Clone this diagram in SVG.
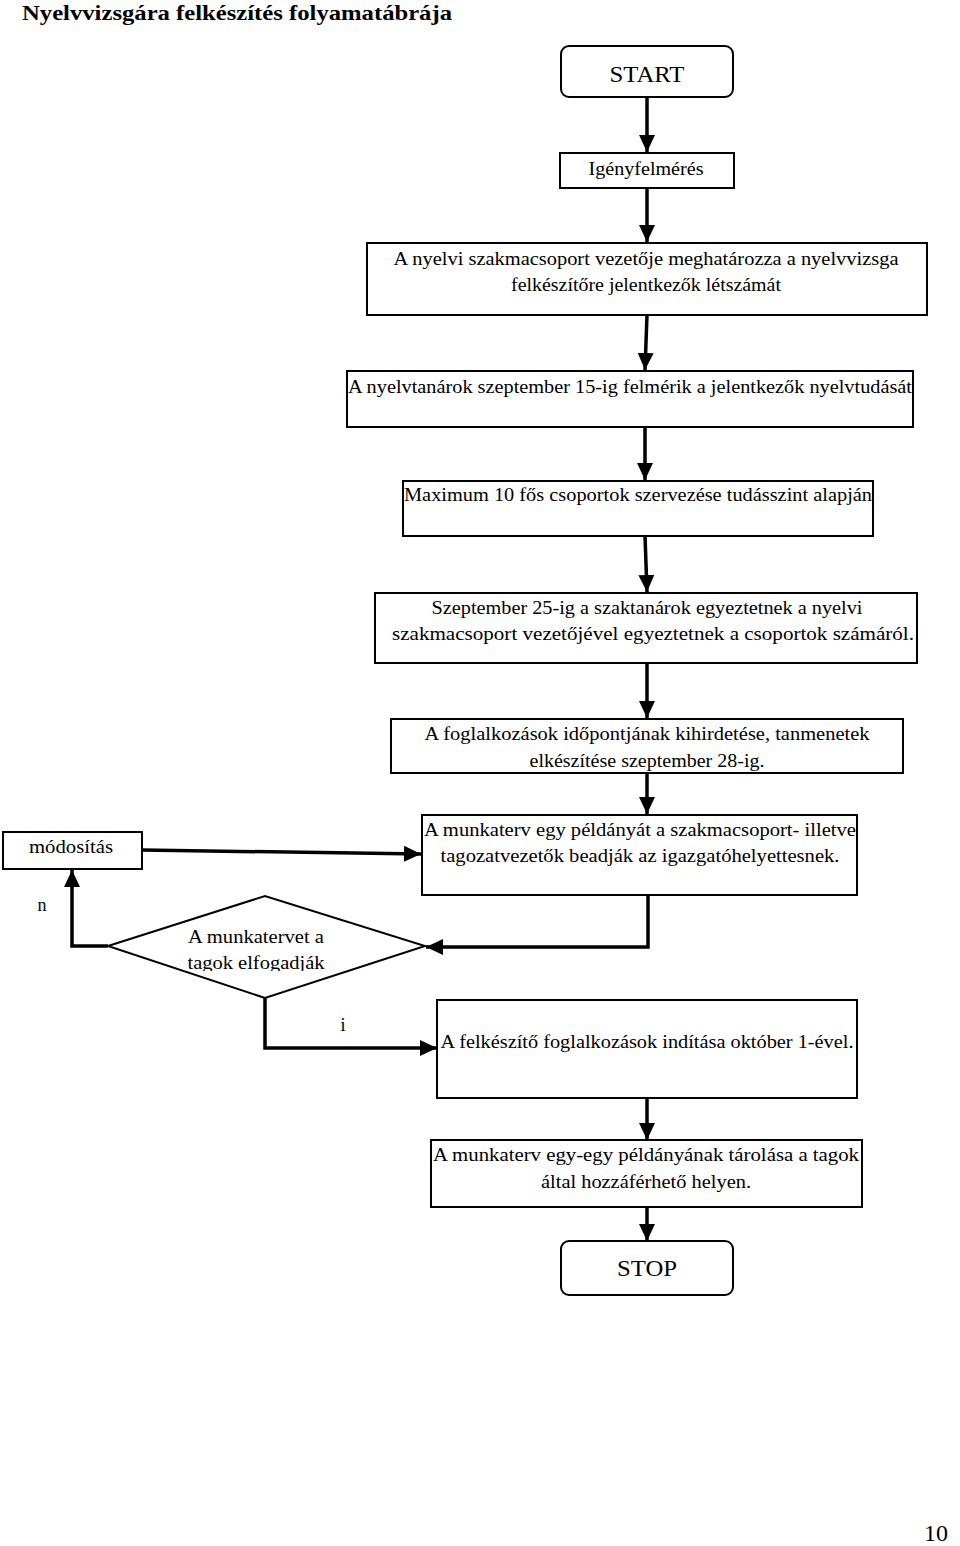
<svg xmlns="http://www.w3.org/2000/svg" width="960" height="1546" viewBox="0 0 960 1546">
<style>
text{font-family:"Liberation Serif","Times New Roman",serif;fill:#000}
.t{font-size:18px;text-anchor:middle}
.big{font-size:24px;text-anchor:middle}
.box{fill:#fff;stroke:#000;stroke-width:2}
.con{fill:none;stroke:#000;stroke-width:3.5}
</style>
<defs>
<marker id="ah" markerUnits="userSpaceOnUse" markerWidth="18" markerHeight="16" refX="17" refY="8" orient="auto">
<path d="M0,0 L17,8 L0,16 Z" fill="#000"/>
</marker>
<clipPath id="dclip"><rect x="100" y="890" width="340" height="81"/></clipPath>
</defs>
<rect width="960" height="1546" fill="#fff"/>
<text x="22" y="20" font-size="22" font-weight="bold" textLength="430" lengthAdjust="spacingAndGlyphs">Nyelvvizsgára felkészítés folyamatábrája</text>

<g id="connectors">
<path class="con" d="M647,97 L647,152" marker-end="url(#ah)"/>
<path class="con" d="M647,188 L647,242" marker-end="url(#ah)"/>
<path class="con" d="M647,315 L645,370" marker-end="url(#ah)"/>
<path class="con" d="M645,427 L645,480" marker-end="url(#ah)"/>
<path class="con" d="M645,536 L647,592" marker-end="url(#ah)"/>
<path class="con" d="M647,663 L647,718" marker-end="url(#ah)"/>
<path class="con" d="M647,773 L647,814" marker-end="url(#ah)"/>
<path class="con" d="M648,893 L648,947 L426,947" marker-end="url(#ah)"/>
<path class="con" d="M108,946 L72,946 L72,870" marker-end="url(#ah)"/>
<path class="con" d="M142,850 L421,854" marker-end="url(#ah)"/>
<path class="con" d="M265,998 L265,1048 L437,1048" marker-end="url(#ah)"/>
<path class="con" d="M647,1098 L647,1140" marker-end="url(#ah)"/>
<path class="con" d="M647,1207 L647,1241" marker-end="url(#ah)"/>
<text x="42" y="911" class="t">n</text>
<text x="343" y="1031" class="t">i</text>
</g>

<g id="start">
<rect class="box" x="561" y="46" width="172" height="51" rx="8"/>
<text x="647" y="82" class="big" textLength="75" lengthAdjust="spacingAndGlyphs">START</text>
</g>
<g id="igenyfelmeres">
<rect class="box" x="560" y="153" width="174" height="35"/>
<text x="646" y="175" class="t" textLength="115" lengthAdjust="spacingAndGlyphs">Igényfelmérés</text>
</g>
<g id="letszam">
<rect class="box" x="367" y="243" width="560" height="72"/>
<text x="646" y="265" class="t" textLength="505" lengthAdjust="spacingAndGlyphs">A nyelvi szakmacsoport vezetője meghatározza a nyelvvizsga</text>
<text x="646" y="291" class="t" textLength="270" lengthAdjust="spacingAndGlyphs">felkészítőre jelentkezők létszámát</text>
</g>
<g id="felmeres">
<rect class="box" x="347" y="371" width="566" height="56"/>
<text x="630" y="393" class="t" textLength="564" lengthAdjust="spacingAndGlyphs">A nyelvtanárok szeptember 15-ig felmérik a jelentkezők nyelvtudását</text>
</g>
<g id="csoportok">
<rect class="box" x="403" y="481" width="470" height="55"/>
<text x="638" y="501" class="t" textLength="468" lengthAdjust="spacingAndGlyphs">Maximum 10 fős csoportok szervezése tudásszint alapján</text>
</g>
<g id="egyeztetes">
<rect class="box" x="375" y="593" width="542" height="70"/>
<text x="647" y="614" class="t" textLength="431" lengthAdjust="spacingAndGlyphs">Szeptember 25-ig a szaktanárok egyeztetnek a nyelvi</text>
<text x="653" y="640" class="t" textLength="522" lengthAdjust="spacingAndGlyphs">szakmacsoport vezetőjével egyeztetnek a csoportok számáról.</text>
</g>
<g id="kihirdetes">
<rect class="box" x="391" y="719" width="512" height="54"/>
<text x="647" y="740" class="t" textLength="445" lengthAdjust="spacingAndGlyphs">A foglalkozások időpontjának kihirdetése, tanmenetek</text>
<text x="647" y="767" class="t" textLength="235" lengthAdjust="spacingAndGlyphs">elkészítése szeptember 28-ig.</text>
</g>
<g id="beadas">
<rect class="box" x="422" y="815" width="435" height="80"/>
<text x="640" y="836" class="t" textLength="432" lengthAdjust="spacingAndGlyphs">A munkaterv egy példányát a szakmacsoport- illetve</text>
<text x="640" y="862" class="t" textLength="399" lengthAdjust="spacingAndGlyphs">tagozatvezetők beadják az igazgatóhelyettesnek.</text>
</g>
<g id="modositas">
<rect class="box" x="3" y="832" width="139" height="37"/>
<text x="71" y="853" class="t" textLength="84" lengthAdjust="spacingAndGlyphs">módosítás</text>
</g>
<g id="elfogadas">
<polygon class="box" points="108,946 265,896 425,946 265,998"/>
<g clip-path="url(#dclip)">
<text x="256" y="943" class="t" textLength="136" lengthAdjust="spacingAndGlyphs">A munkatervet a</text>
<text x="256" y="969" class="t" textLength="137" lengthAdjust="spacingAndGlyphs">tagok elfogadják</text>
</g>
</g>
<g id="inditas">
<rect class="box" x="437" y="1000" width="420" height="98"/>
<text x="647" y="1048" class="t" textLength="413" lengthAdjust="spacingAndGlyphs">A felkészítő foglalkozások indítása október 1-ével.</text>
</g>
<g id="tarolas">
<rect class="box" x="431" y="1140" width="431" height="67"/>
<text x="646" y="1161" class="t" textLength="426" lengthAdjust="spacingAndGlyphs">A munkaterv egy-egy példányának tárolása a tagok</text>
<text x="646" y="1188" class="t" textLength="210" lengthAdjust="spacingAndGlyphs">által hozzáférhető helyen.</text>
</g>
<g id="stop">
<rect class="box" x="561" y="1241" width="172" height="54" rx="8"/>
<text x="647" y="1276" class="big" textLength="60" lengthAdjust="spacingAndGlyphs">STOP</text>
</g>
<text x="936" y="1541" font-size="24" text-anchor="middle">10</text>
</svg>
